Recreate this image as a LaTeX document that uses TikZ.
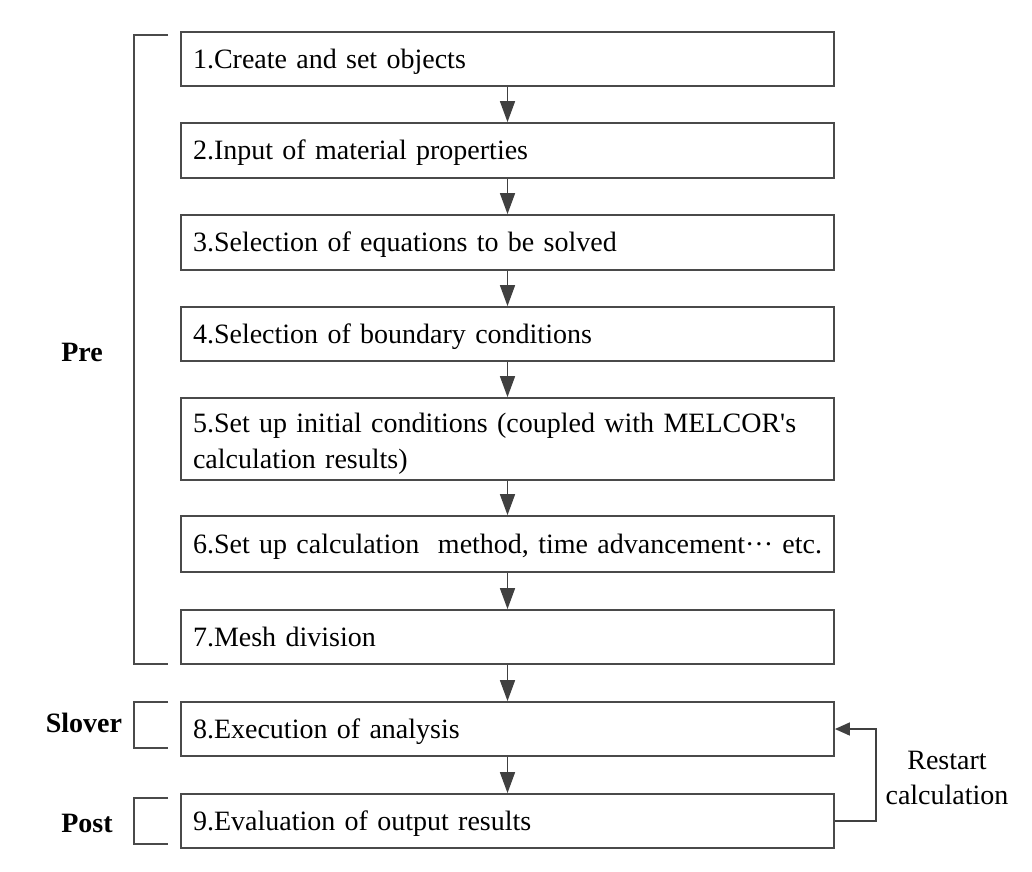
\documentclass[tikz,border=0pt]{standalone}
\usepackage{fontspec}
\setmainfont{Liberation Serif}
\usetikzlibrary{arrows.meta}
\definecolor{boxgray}{HTML}{4A4A4A}
\definecolor{arrgray}{HTML}{404040}
\begin{document}
\begin{tikzpicture}[x=1pt,y=-1pt,
  stepbox/.style={draw=boxgray, line width=1.8pt, minimum width=653pt, text width=629pt,
    inner xsep=12pt, inner ysep=0pt, align=left, font=\fontsize{28}{36}\selectfont, anchor=center},
  onebox/.style={stepbox, minimum height=54pt, text height=22pt, text depth=4pt},
  flow/.style={draw=arrgray, line width=1.6pt, -{Triangle[width=15pt,length=21pt]}},
  backflow/.style={draw=arrgray, line width=1.6pt, -{Triangle[width=13pt,length=15pt]}},
  bracket/.style={draw=boxgray, line width=1.6pt},
  lab/.style={font=\fontsize{28}{34}\selectfont\bfseries},
  note/.style={font=\fontsize{28}{35}\selectfont, align=center}]
\useasboundingbox (0,0) rectangle (1032,871);
\fill[white] (0,0) rectangle (1032,871);

\node[onebox] (b1) at (507.5,59) {1.Create and set objects};
\node[onebox, minimum height=55pt] (b2) at (507.5,150.5) {2.Input of material properties};
\node[onebox, minimum height=55pt] (b3) at (507.5,242.5) {3.Selection of equations to be solved};
\node[onebox] (b4) at (507.5,334) {4.Selection of boundary conditions};
\node[stepbox, minimum height=82pt, text height=20pt, text depth=34pt] (b5) at (507.5,439) {5.Set up initial conditions (coupled with MELCOR\textquotesingle s\\calculation results)};
\node[onebox, minimum height=56pt] (b6) at (507.5,544) {6.Set up calculation\ \ method, time advancement··· etc.};
\node[onebox] (b7) at (507.5,637) {7.Mesh division};
\node[onebox] (b8) at (507.5,729) {8.Execution of analysis};
\node[onebox] (b9) at (507.5,821) {9.Evaluation of output results};

\draw[flow] (b1.south) -- (b2.north);
\draw[flow] (b2.south) -- (b3.north);
\draw[flow] (b3.south) -- (b4.north);
\draw[flow] (b4.south) -- (b5.north);
\draw[flow] (b5.south) -- (b6.north);
\draw[flow] (b6.south) -- (b7.north);
\draw[flow] (b7.south) -- (b8.north);
\draw[flow] (b8.south) -- (b9.north);

\coordinate (rc) at (876,0);
\draw[backflow] (b9.east) -- (b9.east -| rc) -- (b8.east -| rc) -- (b8.east);
\node[note] (rs) at (947,778) {Restart\\calculation};

\draw[bracket] (168,35) -- (134,35) -- (134,664) -- (168,664);
\draw[bracket] (168,702) -- (134,702) -- (134,748) -- (168,748);
\draw[bracket] (168,798) -- (134,798) -- (134,844) -- (168,844);

\node[lab] (pre) at (82,352) {Pre};
\node[lab] (slover) at (84,723) {Slover};
\node[lab] (post) at (87,823) {Post};
\end{tikzpicture}
\end{document}
